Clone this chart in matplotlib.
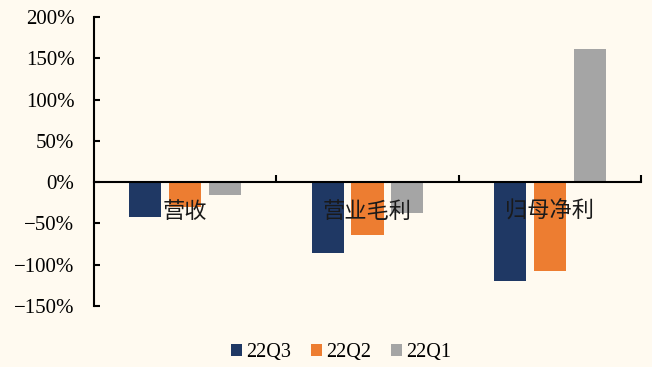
import numpy as np
import matplotlib.pyplot as plt
from matplotlib.ticker import FixedLocator, FuncFormatter

categories = ["营收", "营业毛利", "归母净利"]
series_names = ["22Q3", "22Q2", "22Q1"]
q3 = [-42, -86, -120]
q2 = [-30, -64, -108]
q1 = [-15, -37, 161]
colors = ["#1F3864", "#ED7D31", "#A5A5A5"]

bg = "#FFFAF0"
plt.rcParams["font.family"] = ["Liberation Serif", "DejaVu Serif"]

fig = plt.figure(figsize=(6.52, 3.67), dpi=100, facecolor=bg)
ax = fig.add_axes([94 / 652, 61 / 367, 547 / 652, 289 / 367], facecolor=bg)

x = np.arange(len(categories))
width = 0.176
step = 0.219
for i, (vals, name, c) in enumerate(zip([q3, q2, q1], series_names, colors)):
    ax.bar(x + (i - 1) * step, vals, width, color=c, label=name, zorder=2)

ax.set_xlim(-0.5, 2.5)
ax.set_ylim(-150, 200)

# y axis
ax.set_yticks(np.arange(-150, 201, 50))
ax.yaxis.set_major_formatter(FuncFormatter(lambda v, p: f"{int(v)}%".replace("-", "\u2212")))
ax.tick_params(axis="y", direction="in", length=4, width=1.5, pad=14, labelsize=15)

# x axis sits on the zero line
ax.spines["bottom"].set_position(("data", 0))
ax.xaxis.set_major_locator(FixedLocator([0.5, 1.5, 2.5]))
ax.xaxis.set_major_formatter(FuncFormatter(lambda v, p: ""))
ax.tick_params(axis="x", which="major", direction="in", length=5, width=1.5)

# category names hang just below the zero line, over the bars
for xi, name in zip(x, categories):
    ax.text(xi, -35, name, ha="center", va="center", fontsize=16,
            family=["Noto Sans CJK SC", "DejaVu Sans"], color="#1a1a1a", zorder=5)

for s in ["top", "right"]:
    ax.spines[s].set_visible(False)
ax.spines["left"].set_linewidth(1.5)
ax.spines["bottom"].set_linewidth(1.5)
ax.spines["bottom"].set_zorder(3)

fig.legend(loc="center", bbox_to_anchor=(0.523, 14 / 367), ncol=3, frameon=False,
           fontsize=14.5, handlelength=0.55, handleheight=0.55, handletextpad=0.2,
           columnspacing=1.0, borderpad=0.1)

fig.savefig("out.png", dpi=100, facecolor=bg)
